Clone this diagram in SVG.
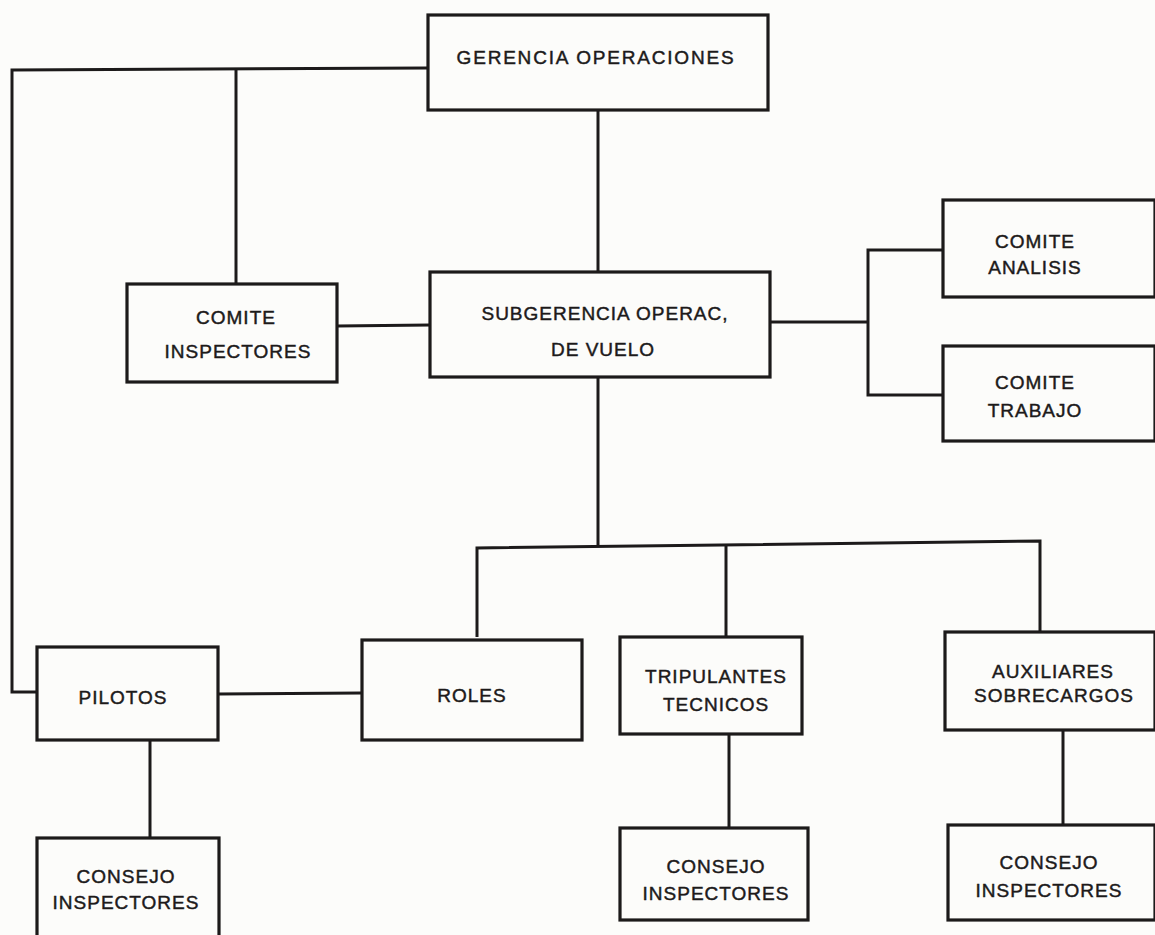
<svg xmlns="http://www.w3.org/2000/svg" width="1155" height="935" viewBox="0 0 1155 935">
<style>
.box{fill:none;stroke:#1c1a1a;stroke-width:3.2}
.ln{fill:none;stroke:#1c1a1a;stroke-width:3}
text{font-family:"Liberation Sans",Arial,sans-serif;font-size:19px;fill:#1c1a1a;stroke:#1c1a1a;stroke-width:0.45;text-anchor:middle;letter-spacing:1px}
.wide{letter-spacing:1.8px}
</style>
<rect width="1155" height="935" fill="#fcfcfa"/>
<g id="connectors">
<polyline class="ln" points="428,68 12,70 12,692 37,692"/>
<line class="ln" x1="236" y1="69" x2="236" y2="284"/>
<line class="ln" x1="598" y1="110" x2="598" y2="272"/>
<line class="ln" x1="337" y1="326" x2="430" y2="325"/>
<line class="ln" x1="770" y1="322" x2="868" y2="322"/>
<polyline class="ln" points="943,250 868,250 868,395 943,395"/>
<line class="ln" x1="598" y1="377" x2="598" y2="545"/>
<polyline class="ln" points="477,637 477,548 1040,541 1040,632"/>
<line class="ln" x1="726" y1="545" x2="726" y2="637"/>
<line class="ln" x1="218" y1="694" x2="362" y2="693"/>
<line class="ln" x1="150" y1="740" x2="150" y2="838"/>
<line class="ln" x1="729" y1="734" x2="729" y2="828"/>
<line class="ln" x1="1063" y1="730" x2="1063" y2="825"/>
</g>
<g id="gerencia"><rect class="box" x="428" y="15" width="340" height="95"/><text class="wide" x="596" y="64">GERENCIA  OPERACIONES</text></g>
<g id="comite-inspectores"><rect class="box" x="127" y="284" width="210" height="98"/><text x="236" y="324">COMITE</text><text x="238" y="358">INSPECTORES</text></g>
<g id="subgerencia"><rect class="box" x="430" y="272" width="340" height="105"/><text x="605" y="320">SUBGERENCIA OPERAC,</text><text x="603" y="356">DE VUELO</text></g>
<g id="comite-analisis"><rect class="box" x="943" y="200" width="212" height="97"/><text x="1035" y="248">COMITE</text><text x="1035" y="274">ANALISIS</text></g>
<g id="comite-trabajo"><rect class="box" x="943" y="346" width="212" height="95"/><text x="1035" y="389">COMITE</text><text x="1035" y="417">TRABAJO</text></g>
<g id="pilotos"><rect class="box" x="37" y="647" width="181" height="93"/><text x="123" y="704">PILOTOS</text></g>
<g id="roles"><rect class="box" x="362" y="640" width="220" height="100"/><text x="472" y="702">ROLES</text></g>
<g id="tripulantes"><rect class="box" x="620" y="637" width="182" height="97"/><text x="716" y="683">TRIPULANTES</text><text x="716" y="711">TECNICOS</text></g>
<g id="auxiliares"><rect class="box" x="945" y="632" width="210" height="98"/><text x="1053" y="678">AUXILIARES</text><text x="1054" y="702">SOBRECARGOS</text></g>
<g id="consejo-pilotos"><rect class="box" x="37" y="838" width="182" height="100"/><text x="126" y="883">CONSEJO</text><text x="126" y="909">INSPECTORES</text></g>
<g id="consejo-tripulantes"><rect class="box" x="620" y="828" width="188" height="92"/><text x="716" y="873">CONSEJO</text><text x="716" y="900">INSPECTORES</text></g>
<g id="consejo-auxiliares"><rect class="box" x="948" y="825" width="207" height="95"/><text x="1049" y="869">CONSEJO</text><text x="1049" y="897">INSPECTORES</text></g>
</svg>
